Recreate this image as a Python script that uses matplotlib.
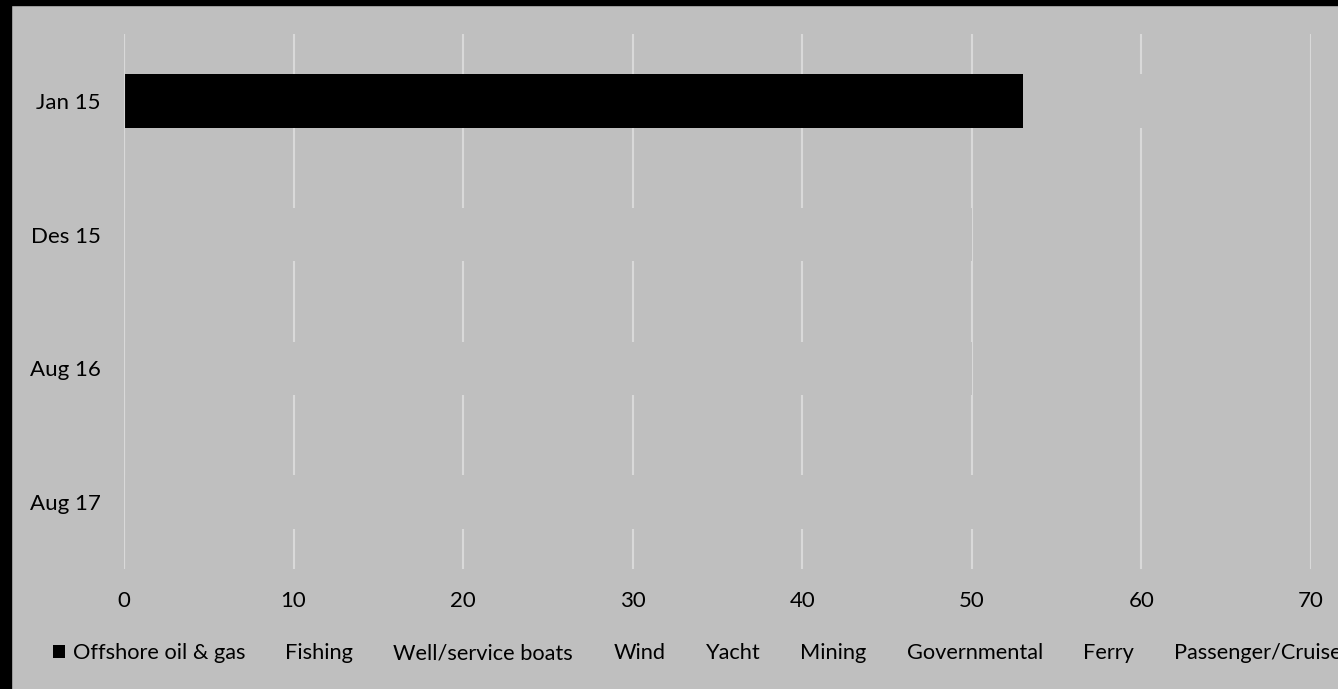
import matplotlib
matplotlib.use("Agg")
import matplotlib.pyplot as plt
import numpy as np

# vessel counts per period, stacked by segment
periods = ["Jan 15", "Des 15", "Aug 16", "Aug 17"]
segments = ["Offshore oil & gas", "Fishing", "Well/service boats", "Wind", "Yacht",
            "Mining", "Governmental", "Ferry", "Passenger/Cruise"]
offshore = [53, 0, 0, 0]
fishing = [4, 14, 13, 15]
well_service = [3, 12, 12, 13]
wind = [2, 9, 10, 11]
yacht = [1, 6, 6, 7]
mining = [0, 3, 4, 4]
governmental = [1, 3, 2, 3]
ferry = [0, 2, 2, 2]
passenger = [1, 1, 1, 1]
series = [offshore, fishing, well_service, wind, yacht, mining, governmental, ferry, passenger]

BG = "#bfbfbf"
GRID = "#d9d9d9"
colors = ["#000000"] + [BG] * (len(segments) - 1)

plt.rcParams["font.family"] = ["Lato", "DejaVu Sans"]

fig = plt.figure(figsize=(13.38, 6.89), dpi=100, facecolor=BG)
ax = fig.add_axes([124 / 1338, 1 - 569 / 689, 1187 / 1338, 535 / 689])
ax.set_facecolor(BG)

y = np.arange(len(periods))
left = np.zeros(len(periods))
for name, vals, col in zip(segments, series, colors):
    ax.barh(y, vals, left=left, height=0.4, color=col, label=name, zorder=2)
    left += np.array(vals)

ax.set_xlim(0, 70)
ax.set_ylim(len(periods) - 0.5, -0.5)
ax.set_xticks(range(0, 71, 10))
ax.set_yticks(y)
ax.set_yticklabels(periods)
ax.xaxis.grid(True, color=GRID, linewidth=1.5, zorder=1)
ax.set_axisbelow(True)
ax.axvline(0, color=GRID, linewidth=1.5, zorder=3)
for s in ax.spines.values():
    s.set_visible(False)
ax.tick_params(axis="both", length=0, labelsize=16, colors="#000000")
ax.tick_params(axis="x", pad=16)
ax.tick_params(axis="y", pad=17)

fig.legend(loc="center left", bbox_to_anchor=(53 / 1338, 1 - 653 / 689),
           ncol=len(segments), frameon=False, fontsize=15.7, borderpad=0,
           borderaxespad=0, handlelength=0.55, handleheight=0.55,
           handletextpad=0.36, columnspacing=0.93)

# dark frame along the top and left edges
fig.patches.append(plt.Rectangle((0, 1 - 5 / 689), 1, 5 / 689, transform=fig.transFigure,
                                 color="black", zorder=10))
fig.patches.append(plt.Rectangle((0, 0), 11 / 1338, 1, transform=fig.transFigure,
                                 color="black", zorder=10))

fig.savefig("out.png", dpi=100, facecolor=BG)
